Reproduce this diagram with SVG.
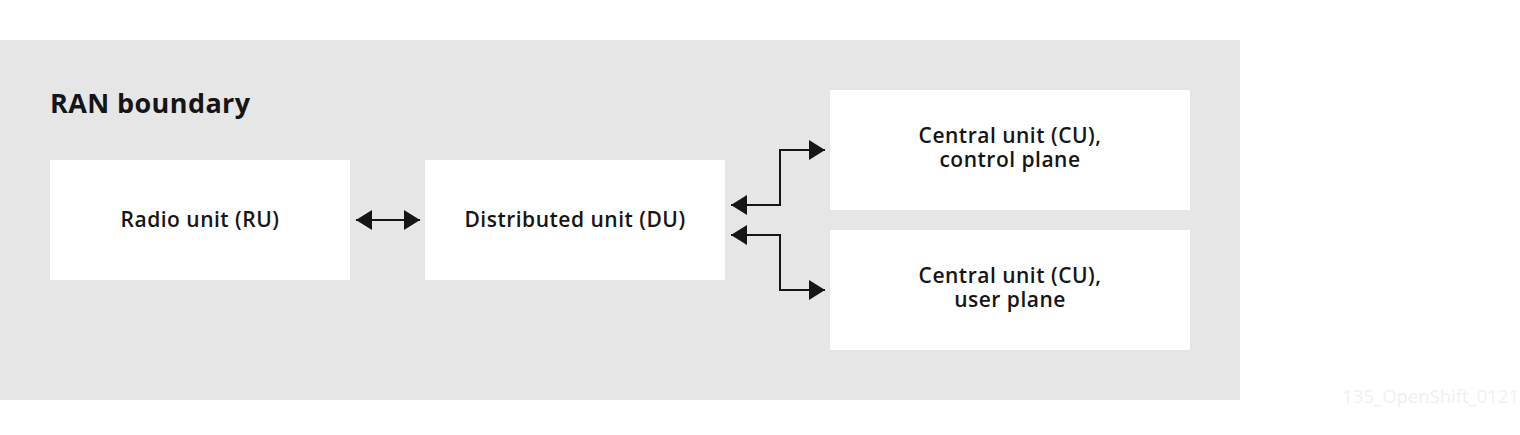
<svg xmlns="http://www.w3.org/2000/svg" width="1520" height="435" viewBox="0 0 1520 435">
  <style>
    .box { fill: #ffffff; }
    .lbl { font-family: "Open Sans", "Liberation Sans", sans-serif; font-size: 21px; font-weight: 600; letter-spacing: 0.5px; fill: #151515; text-anchor: middle; }
    .title { font-family: "Open Sans", "Liberation Sans", sans-serif; font-size: 27px; font-weight: 700; letter-spacing: 0.4px; fill: #151515; }
    .wm { font-family: "Open Sans", "Liberation Sans", sans-serif; font-size: 18.5px; fill: #f0f0f0; text-anchor: end; }
    .conn { fill: none; stroke: #151515; stroke-width: 2; }
  </style>
  <defs>
    <marker id="ah" viewBox="0 0 16 20" refX="16" refY="10" markerWidth="16" markerHeight="20" markerUnits="userSpaceOnUse" orient="auto-start-reverse">
      <path d="M0,0 L16,10 L0,20 Z" fill="#151515"/>
    </marker>
  </defs>
  <rect x="0" y="0" width="1520" height="435" fill="#ffffff"/>
  <g id="ran-boundary">
    <rect x="0" y="40" width="1240" height="360" fill="#e6e6e6"/>
    <text class="title" x="50" y="113">RAN boundary</text>
  </g>
  <g id="ru">
    <rect class="box" x="50" y="160" width="300" height="120"/>
    <text class="lbl" x="200" y="227">Radio unit (RU)</text>
  </g>
  <g id="du">
    <rect class="box" x="425" y="160" width="300" height="120"/>
    <text class="lbl" x="575" y="227">Distributed unit (DU)</text>
  </g>
  <g id="cu-cp">
    <rect class="box" x="830" y="90" width="360" height="120"/>
    <text class="lbl" x="1010" y="143">Central unit (CU),</text>
    <text class="lbl" x="1010" y="167">control plane</text>
  </g>
  <g id="cu-up">
    <rect class="box" x="830" y="230" width="360" height="120"/>
    <text class="lbl" x="1010" y="283">Central unit (CU),</text>
    <text class="lbl" x="1010" y="307">user plane</text>
  </g>
  <g id="connectors">
    <path class="conn" d="M356,220 L420,220" marker-start="url(#ah)" marker-end="url(#ah)"/>
    <path class="conn" d="M731,205 L780,205 L780,150 L825,150" marker-start="url(#ah)" marker-end="url(#ah)"/>
    <path class="conn" d="M731,235 L780,235 L780,290 L825,290" marker-start="url(#ah)" marker-end="url(#ah)"/>
  </g>
  <text class="wm" x="1519" y="403">135_OpenShift_0121</text>
</svg>
